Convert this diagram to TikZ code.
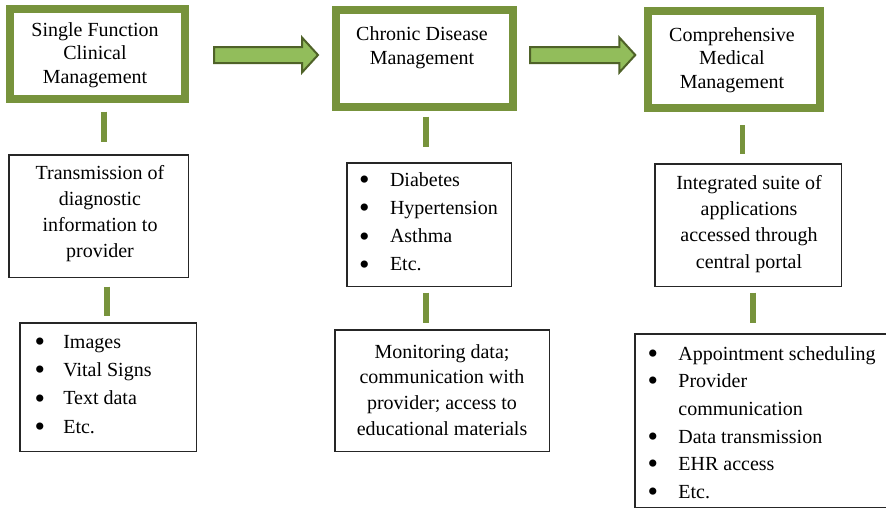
\documentclass[tikz,border=0pt]{standalone}
\usepackage{fontspec}
\setmainfont{Liberation Serif}
\usetikzlibrary{calc}

\definecolor{stageframe}{HTML}{77933C}
\definecolor{arrowfill}{HTML}{92BD5B}
\definecolor{arrowline}{HTML}{4F6228}
\definecolor{boxline}{HTML}{262626}

% fixed-width cell holding a (slightly enlarged) list bullet
\newcommand\bulletcell[1]{\makebox[#1][l]{\hspace*{-1.6pt}\raisebox{-3.2pt}{\fontsize{30}{30}\selectfont\textbullet}}}
% block arrow from a tail coordinate to a tip coordinate
\newcommand\stagearrow[2]{%
  \draw[blockarrow] ($(#1)+(0,-8)$) -- ($(#2)+(-16,-8)$) -- ($(#2)+(-16,-17.5)$)
    -- (#2) -- ($(#2)+(-16,17.5)$) -- ($(#2)+(-16,8)$) -- ($(#1)+(0,8)$) -- cycle;}

\begin{document}
\begin{tikzpicture}[x=1pt,y=-1pt,
  stage/.style={rectangle, draw=stageframe, line width=8pt, fill=white,
    inner sep=0pt, outer sep=0pt},
  infobox/.style={rectangle, draw=boxline, line width=1.5pt,
    inner sep=0pt, outer sep=0pt},
  linkbar/.style={draw=stageframe, line width=5.5pt},
  blockarrow/.style={draw=arrowline, fill=arrowfill, line width=2pt, line join=miter},
  boxtext/.style={inner sep=0pt, outer sep=0pt, anchor=north, align=center,
    font=\fontsize{20}{#1}\selectfont},
  listtext/.style={inner sep=0pt, outer sep=0pt, anchor=north west, align=left,
    font=\fontsize{20}{#1}\selectfont},
]
\useasboundingbox (0,0) rectangle (886,509);

% ---- stage boxes ----
\node[stage, minimum width=175.3pt, minimum height=90pt] (s1) at (97.4,54) {};
\node[stage, minimum width=177pt, minimum height=97pt] (s2) at (424.5,58.5) {};
\node[stage, minimum width=172pt, minimum height=97pt] (s3) at (734,59.5) {};

\node[boxtext=23.5] (s1txt) at (95,19.6)
  {\strut Single Function\\\strut Clinical\\\strut Management};
\node[boxtext=23.6] (s2txt) at (422,24.2)
  {\strut Chronic Disease\\\strut Management};
\node[boxtext=23.5] (s3txt) at (732,24.8)
  {\strut Comprehensive\\\strut Medical\\\strut Management};

% ---- arrows between stages ----
\coordinate (a1tail) at (214,55);
\coordinate (a1tip) at (318,55);
\coordinate (a2tail) at (530,55);
\coordinate (a2tip) at (635.3,55);
\stagearrow{a1tail}{a1tip}
\stagearrow{a2tail}{a2tip}

% ---- detail boxes ----
\node[infobox, minimum width=179.5pt, minimum height=122.5pt] (t1) at (98.5,216) {};
\node[infobox, minimum width=176.5pt, minimum height=128.5pt] (i1) at (108,387) {};
\node[infobox, minimum width=164.5pt, minimum height=123.5pt] (c1) at (429,224.5) {};
\node[infobox, minimum width=214.5pt, minimum height=121.5pt] (c2) at (442,390.5) {};
\node[infobox, minimum width=186.5pt, minimum height=122.5pt] (m1) at (748,225) {};
\node[infobox, minimum width=266pt, minimum height=173.5pt] (m2) at (767.75,420.5) {};

\node[boxtext=26.2] (t1txt) at (100,160.7)
  {\strut Transmission of\\\strut diagnostic\\\strut information to\\\strut provider};
\node[boxtext=25.6] (c2txt) at (442,340.4)
  {\strut Monitoring data;\\\strut communication with\\\strut provider; access to\\\strut educational materials};
\node[boxtext=26.3] (m1txt) at (749,170.9)
  {\strut Integrated suite of\\\strut applications\\\strut accessed through\\\strut central portal};

\node[listtext=28.3] (i1list) at (36.2,328.5)
  {\strut\bulletcell{27.1pt}Images\\
   \strut\bulletcell{27.1pt}Vital Signs\\
   \strut\bulletcell{27.1pt}Text data\\
   \strut\bulletcell{27.1pt}Etc.};
\node[listtext=28.1] (c1list) at (360.8,167)
  {\strut\bulletcell{29.2pt}Diabetes\\
   \strut\bulletcell{29.2pt}Hypertension\\
   \strut\bulletcell{29.2pt}Asthma\\
   \strut\bulletcell{29.2pt}Etc.};
\node[listtext=27.66] (m2list) at (649.2,340.7)
  {\strut\bulletcell{29.2pt}Appointment scheduling\\
   \strut\bulletcell{29.2pt}Provider\\
   \strut\hspace*{29.2pt}communication\\
   \strut\bulletcell{29.2pt}Data transmission\\
   \strut\bulletcell{29.2pt}EHR access\\
   \strut\bulletcell{29.2pt}Etc.};

% ---- vertical links ----
\coordinate (b1a) at (103.8,111.7);  \coordinate (b1b) at (103.8,141.7);
\coordinate (b2a) at (107.2,286.7);  \coordinate (b2b) at (107.2,315.7);
\coordinate (b3a) at (425.8,116.7);  \coordinate (b3b) at (425.8,146.7);
\coordinate (b4a) at (425.8,292.7);  \coordinate (b4b) at (425.8,322.7);
\coordinate (b5a) at (742.5,125);    \coordinate (b5b) at (742.5,154.3);
\coordinate (b6a) at (753,292.7);    \coordinate (b6b) at (753,322.7);
\draw[linkbar] (b1a) -- (b1b);
\draw[linkbar] (b2a) -- (b2b);
\draw[linkbar] (b3a) -- (b3b);
\draw[linkbar] (b4a) -- (b4b);
\draw[linkbar] (b5a) -- (b5b);
\draw[linkbar] (b6a) -- (b6b);
\end{tikzpicture}
\end{document}
